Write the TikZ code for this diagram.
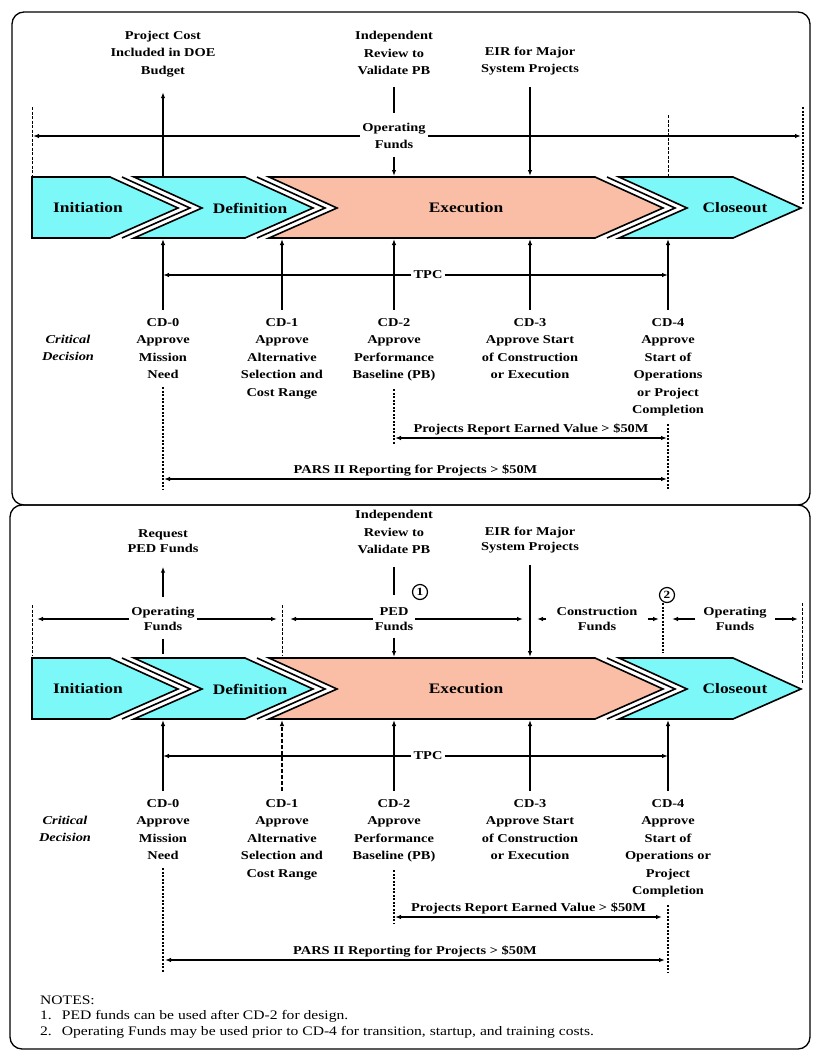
\documentclass[tikz,border=0pt]{standalone}
\usepackage{fontspec}
\setmainfont{Liberation Serif}[FakeStretch=1.2]
\usetikzlibrary{arrows.meta}
\definecolor{phasecyan}{RGB}{125,248,248}
\definecolor{execsalmon}{RGB}{250,190,166}
\tikzset{
  phase/.style={draw=black, line width=1.6pt, line join=miter},
  sepline/.style={draw=black, line width=1.6pt},
  lbl/.style={font=\bfseries\fontsize{12}{17.5}\selectfont, align=center, inner sep=2pt},
  lbl2/.style={lbl, font=\bfseries\fontsize{12}{15}\selectfont},
  phaselbl/.style={font=\bfseries\fontsize{14.5}{17}\selectfont, inner sep=2pt},
  cdlbl/.style={lbl, anchor=north, inner ysep=8pt},
  crit/.style={font=\bfseries\itshape\fontsize{12}{17.5}\selectfont, align=center},
  note/.style={font=\fontsize{13}{16}\selectfont, anchor=west, inner sep=0pt},
  arr/.style={line width=1.3pt, -{Latex[length=6pt,width=4.5pt]}},
  twoarr/.style={line width=1.3pt, {Latex[length=6pt,width=4.5pt]}-{Latex[length=6pt,width=4.5pt]}},
  plain/.style={line width=1.3pt},
  fence/.style={line width=1pt, dash pattern=on 3pt off 1.5pt},
  dotline/.style={line width=1.1pt, dash pattern=on 2pt off 1.5pt},
  panel/.style={line width=1.3pt, rounded corners=12pt},
  marker/.style={circle, draw, line width=1.2pt, inner sep=0pt, minimum size=15pt,
    font=\bfseries\fontsize{11}{11}\selectfont}
}
% one row of phase chevrons: #1 = name prefix, #2 = middle y
\newcommand{\phaserow}[2]{%
  \draw[phase, fill=phasecyan] (32,#2-31) -- (110,#2-31) -- (178,#2) -- (110,#2+30) -- (32,#2+30) -- cycle;
  \draw[sepline] (122,#2-31) -- (190,#2) -- (122,#2+30);
  \draw[phase, fill=phasecyan] (134,#2-31) -- (245,#2-31) -- (313,#2) -- (245,#2+30) -- (134,#2+30) -- (202,#2) -- cycle;
  \draw[sepline] (257,#2-31) -- (325,#2) -- (257,#2+30);
  \draw[phase, fill=execsalmon] (269,#2-31) -- (595,#2-31) -- (663,#2) -- (595,#2+30) -- (269,#2+30) -- (337,#2) -- cycle;
  \draw[sepline] (607,#2-31) -- (675,#2) -- (607,#2+30);
  \draw[phase, fill=phasecyan] (619,#2-31) -- (733,#2-31) -- (801,#2) -- (733,#2+30) -- (619,#2+30) -- (687,#2) -- cycle;
  \node[phaselbl] (#1init) at (88,#2) {Initiation};
  \node[phaselbl] (#1def) at (250,#2) {Definition};
  \node[phaselbl] (#1exe) at (466,#2) {Execution};
  \node[phaselbl] (#1close) at (735,#2) {Closeout};
  \foreach \x [count=\i from 0] in {163,282,394,530,668} {
    \coordinate (#1t\i) at (\x,#2-32);
    \coordinate (#1b\i) at (\x,#2+31);
  }
}

\begin{document}
\begin{tikzpicture}[x=1pt, y=-1pt]
\useasboundingbox (0,0) rectangle (812,1053);
\draw[panel] (12,12) rectangle (810,505);
\draw[panel] (10,505) rectangle (810,1049);

% upper panel
\phaserow{A}{208}
\node[lbl] (cost) at (163,54) {Project Cost\\Included in DOE\\Budget};
\node[lbl] (review) at (394,53) {Independent\\Review to\\Validate PB};
\node[lbl] (eir) at (530,61) {EIR for Major\\System Projects};
\node[lbl] (opfund) at (394,136) {Operating\\Funds};
\coordinate (opL) at (33,136);
\coordinate (opR) at (801,136);
\draw[arr, shorten >=13pt] (At0) -- (cost.south);
\draw[plain, shorten <=10pt, shorten >=8pt] (review.south) -- (opfund.north);
\draw[arr, shorten <=6pt] (opfund.south) -- (At2);
\draw[arr, shorten <=10pt] (eir.south) -- (At3);
\draw[arr] (opfund.west) -- (opL);
\draw[arr] (opfund.east) -- (opR);
\draw[fence] (32,107) -- (32,176);
\draw[fence] (668,115) -- (668,176);
\draw[dotline] (803,107) -- (803,205);

\node[crit] (critA) at (68,348) {Critical\\Decision};
\node[cdlbl] (Acd0) at (163,310) {CD-0\\Approve\\Mission\\Need};
\node[cdlbl] (Acd1) at (282,310) {CD-1\\Approve\\Alternative\\Selection and\\Cost Range};
\node[cdlbl] (Acd2) at (394,310) {CD-2\\Approve\\Performance\\Baseline (PB)};
\node[cdlbl] (Acd3) at (530,310) {CD-3\\Approve Start\\of Construction\\or Execution};
\node[cdlbl] (Acd4) at (668,310) {CD-4\\Approve\\Start of\\Operations\\or Project\\Completion};
\foreach \i in {0,...,4} \draw[arr] (Acd\i.north) -- (Ab\i);
\node[lbl] (tpcA) at (428,275) {TPC};
\draw[arr] (tpcA.west) -- (tpcA -| Acd0.north);
\draw[arr] (tpcA.east) -- (tpcA -| Acd4.north);

\coordinate (Aend0) at (163,490);
\coordinate (Aend2) at (394,444);
\coordinate (Aend4) at (668,490);
\draw[dotline] (Acd0.south) -- (Aend0);
\draw[dotline] (Acd2.south) -- (Aend2);
\draw[dotline] (Acd4.south) -- (Aend4);
\coordinate (evAl) at (395,438);
\coordinate (evAr) at (667,438);
\draw[twoarr] (evAl) -- node[lbl, above, name=evA] {Projects Report Earned Value > \$50M} (evAr);
\coordinate (parsAl) at (164,479);
\coordinate (parsAr) at (667,479);
\draw[twoarr] (parsAl) -- node[lbl, above, name=parsA] {PARS II Reporting for Projects > \$50M} (parsAr);

% lower panel
\phaserow{B}{689}
\node[lbl2] (request) at (163,541) {Request\\PED Funds};
\node[lbl] (reviewB) at (394,532) {Independent\\Review to\\Validate PB};
\node[lbl2] (eirB) at (530,540) {EIR for Major\\System Projects};
\node[lbl2] (opfundB) at (163,619) {Operating\\Funds};
\node[lbl2] (ped) at (394,619) {PED\\Funds};
\node[lbl2] (constr) at (597,619) {Construction\\Funds};
\node[lbl2] (opfundC) at (735,619) {Operating\\Funds};
\node[marker] (mark1) at (420,592) {1};
\node[marker] (mark2) at (667,595) {2};

\coordinate (fB0) at (32,605);
\coordinate (fB1) at (282,605);
\coordinate (fB2) at (663,603);
\coordinate (fB3) at (802,603);
\draw[fence] (fB0) -- ++(0,50);
\draw[fence] (fB1) -- ++(0,50);
\draw[dotline] (fB2) -- ++(0,50);
\draw[fence] (fB3) -- ++(0,80);

\draw[arr, shorten >=12pt] ([yshift=8pt]opfundB.north) -- (request.south);
\draw[plain, shorten <=6pt, shorten >=3pt] (opfundB.south) -- (Bt0);
\draw[arr, shorten >=5pt] (opfundB.west) -- (opfundB -| fB0);
\draw[arr, shorten >=5pt] (opfundB.east) -- (opfundB -| fB1);
\draw[arr, shorten >=8pt] (ped.west) -- (ped -| fB1);
\draw[arr, shorten >=7pt] (ped.east) -- (ped -| eirB.south);
\draw[plain, shorten <=11pt, shorten >=10pt] (reviewB.south) -- (ped.north);
\draw[arr, shorten <=5pt] (ped.south) -- (Bt2);
\draw[arr, line width=1.7pt, shorten <=10pt] (eirB.south) -- (Bt3);
\draw[arr, shorten <=8pt, shorten >=7pt] (constr.west) -- (constr -| eirB.south);
\draw[arr, shorten <=8pt, shorten >=4pt] (constr.east) -- (constr -| fB2);
\draw[arr, shorten <=6pt, shorten >=9pt] (opfundC.west) -- (opfundC -| fB2);
\draw[arr, shorten <=6pt, shorten >=4pt] (opfundC.east) -- (opfundC -| fB3);

\node[crit] (critB) at (65,829) {Critical\\Decision};
\node[cdlbl] (Bcd0) at (163,791) {CD-0\\Approve\\Mission\\Need};
\node[cdlbl] (Bcd1) at (282,791) {CD-1\\Approve\\Alternative\\Selection and\\Cost Range};
\node[cdlbl] (Bcd2) at (394,791) {CD-2\\Approve\\Performance\\Baseline (PB)};
\node[cdlbl] (Bcd3) at (530,791) {CD-3\\Approve Start\\of Construction\\or Execution};
\node[cdlbl] (Bcd4) at (668,791) {CD-4\\Approve\\Start of\\Operations or\\Project\\Completion};
\foreach \i in {0,2,3,4} \draw[arr] (Bcd\i.north) -- (Bb\i);
\draw[arr, dash pattern=on 4pt off 2pt] (Bcd1.north) -- (Bb1);
\node[lbl] (tpcB) at (428,756) {TPC};
\draw[arr] (tpcB.west) -- (tpcB -| Bcd0.north);
\draw[arr] (tpcB.east) -- (tpcB -| Bcd4.north);

\coordinate (Bend0) at (163,972);
\coordinate (Bend2) at (394,923);
\coordinate (Bend4) at (668,972);
\draw[dotline] (Bcd0.south) -- (Bend0);
\draw[dotline] (Bcd2.south) -- (Bend2);
\draw[dotline] (Bcd4.south) -- (Bend4);
\coordinate (evBl) at (395,917);
\coordinate (evBr) at (662,917);
\draw[twoarr] (evBl) -- node[lbl, above, name=evB] {Projects Report Earned Value > \$50M} (evBr);
\coordinate (parsBl) at (165,960);
\coordinate (parsBr) at (665,960);
\draw[twoarr] (parsBl) -- node[lbl, above, name=parsB] {PARS II Reporting for Projects > \$50M} (parsBr);

\node[note] (notes) at (40,1000) {NOTES:};
\node[note] (note1) at (40,1016) {1.\hspace{10pt}PED funds can be used after CD-2 for design.};
\node[note] (note2) at (40,1032) {2.\hspace{10pt}Operating Funds may be used prior to CD-4 for transition, startup, and training costs.};
\end{tikzpicture}
\end{document}
